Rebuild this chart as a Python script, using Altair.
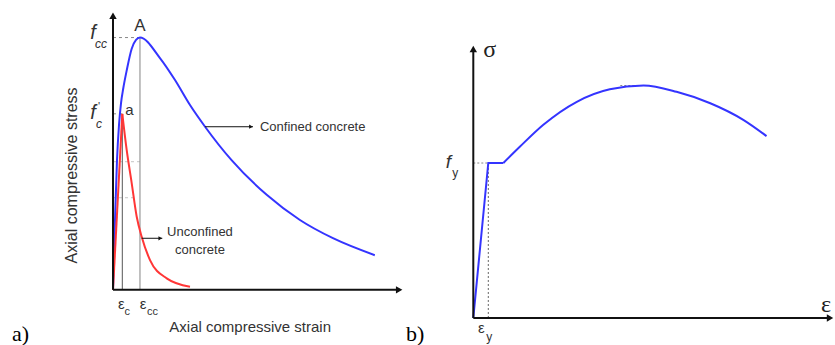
import altair as alt
import pandas as pd

# ---------------- (a) concrete: strain in per mille, stress in MPa ----------------
eps_c, eps_cc = 2.0, 5.8          # strain at unconfined / confined peak
f_c, f_cc = 30.0, 43.0            # unconfined / confined strength
strain_axis_a, stress_axis_a = 62.4, 47.4   # length of the drawn axes

confined_strain = [0, 0.43, 0.86, 1.29, 1.72, 2.22, 2.95, 4.02, 4.95, 5.8, 10.1, 13.3,
                   16.56, 19.8, 25.5, 33.05, 40.2, 47.3, 56.3]
confined_stress = [0, 11.9, 22.1, 28.1, 31.8, 34.4, 37.4, 41.1, 42.6, 43.0, 39.5, 35.8,
                   31.5, 27.8, 22.1, 16.2, 11.9, 8.8, 5.9]

unconfined_rise_strain = [0, 2.0]
unconfined_rise_stress = [0, 30.0]
unconfined_fall_strain = [2.0, 2.95, 4.02, 5.09, 6.17, 7.96, 11.55, 16.56]
unconfined_fall_stress = [30.0, 23.8, 18.2, 12.5, 9.05, 5.08, 1.96, 0.53]

# faint construction lines on the left of the peaks
aux_levels = [21.84, 15.7]
aux_ends = [6.0, 4.3]

# ---------------- (b) steel: strain in per mille, stress in MPa ----------------
eps_y, eps_sh = 2.0, 4.0
f_y, f_u, eps_u = 420.0, 630.0, 22.7
strain_axis_b, stress_axis_b = 48.1, 740.0

steel_elastic_strain = [0, eps_y, eps_sh]
steel_elastic_stress = [0, f_y, f_y]
steel_hardening_strain = [4.0, 6.2, 9.3, 13.8, 18.2, 22.7, 27.1, 31.6, 36.0, 39.1]
steel_hardening_stress = [420, 464, 523, 586, 620, 630, 613, 582, 537, 493]

BLUE = "#3434ff"
RED = "#ff3636"
INK = "#111111"
TXT = "#333333"
SANS = "Liberation Sans"
SERIF = "Liberation Serif"

xa = alt.Scale(domain=[-24.3, 70.32], nice=False, zero=False)
ya = alt.Scale(domain=[-9.4, 49.4], nice=False, zero=False)
xb = alt.Scale(domain=[-4.44, 48.23], nice=False, zero=False)
yb = alt.Scale(domain=[-73.2, 861.8], nice=False, zero=False)


def enc(xs, ys, x2=False, y2=False):
    e = dict(x=alt.X("x:Q", scale=xs, axis=None), y=alt.Y("y:Q", scale=ys, axis=None))
    if x2:
        e["x2"] = alt.X2("x2:Q")
    if y2:
        e["y2"] = alt.Y2("y2:Q")
    return e


def curve(xs, ys, sx, sy, color, interp):
    df = pd.DataFrame({"x": sx, "y": sy})
    return alt.Chart(df).mark_line(color=color, strokeWidth=2, interpolate=interp).encode(**enc(xs, ys))


def rule(xs, ys, x, x2, y, y2, **style):
    df = pd.DataFrame({"x": [x], "x2": [x2], "y": [y], "y2": [y2]})
    return alt.Chart(df).mark_rule(**style).encode(**enc(xs, ys, x2=True, y2=True))


def head(xs, ys, x, y, shape, size, **off):
    df = pd.DataFrame({"x": [x], "y": [y]})
    return alt.Chart(df).mark_point(shape=shape, size=size, filled=True, color=INK,
                                    opacity=1, strokeWidth=0, **off).encode(**enc(xs, ys))


def label(xs, ys, text, x, y, size, font=SANS, color=TXT, **style):
    df = pd.DataFrame({"x": [x], "y": [y], "t": [text]})
    return alt.Chart(df).mark_text(fontSize=size, font=font, color=color, **style).encode(
        text="t:N", **enc(xs, ys))


# ---------------- panel (a) ----------------
A = [
    # peak guides
    rule(xa, ya, 0, eps_cc, f_cc, f_cc, color="#888", strokeDash=[3, 3], strokeWidth=1),
    rule(xa, ya, 0, eps_c, f_c, f_c, color="#888", strokeDash=[3, 3], strokeWidth=1),
    rule(xa, ya, 0, aux_ends[0], aux_levels[0], aux_levels[0], color="#c4c4c4", strokeDash=[3, 3], strokeWidth=1),
    rule(xa, ya, 0, aux_ends[1], aux_levels[1], aux_levels[1], color="#c4c4c4", strokeDash=[3, 3], strokeWidth=1),
    rule(xa, ya, eps_c, eps_c, 0, f_c, color="#555", strokeWidth=1),
    rule(xa, ya, eps_cc, eps_cc, 0, f_cc, color="#999", strokeWidth=1.2),
    # stress-strain curves
    curve(xa, ya, confined_strain, confined_stress, BLUE, "monotone"),
    curve(xa, ya, unconfined_rise_strain, unconfined_rise_stress, RED, "linear"),
    curve(xa, ya, unconfined_fall_strain, unconfined_fall_stress, RED, "monotone"),
    # axes
    rule(xa, ya, 0, 0, 0, stress_axis_a - 1.0, color=INK, strokeWidth=2),
    rule(xa, ya, 0, strain_axis_a - 1.5, 0, 0, color=INK, strokeWidth=2),
    head(xa, ya, 0, stress_axis_a, "triangle-up", 55, yOffset=4),
    head(xa, ya, strain_axis_a, 0, "triangle-right", 55, xOffset=-4),
    # leader arrows
    rule(xa, ya, 19.8, 30.1, 27.8, 27.8, color=INK, strokeWidth=1),
    head(xa, ya, 30.1, 27.8, "triangle-right", 18, xOffset=-2),
    label(xa, ya, "Confined concrete", 31.6, 27.8, 13, align="left", baseline="middle"),
    rule(xa, ya, 6.17, 10.6, 8.79, 8.79, color=INK, strokeWidth=1),
    head(xa, ya, 10.6, 8.79, "triangle-right", 18, xOffset=-2),
    label(xa, ya, "Unconfined\nconcrete", 18.7, 9.9, 13, align="center", baseline="middle",
          lineBreak="\n", lineHeight=18),
    # point labels
    label(xa, ya, "A", eps_cc, f_cc, 17, align="center", baseline="middle", dy=-12),
    label(xa, ya, "a", eps_c, f_c, 15, align="center", baseline="middle", dx=7, dy=-4),
    label(xa, ya, "f", 0, f_cc, 20, fontStyle="italic", align="center", baseline="alphabetic", dx=-20, dy=1),
    label(xa, ya, "cc", 0, f_cc, 12, fontStyle="italic", align="left", baseline="middle", dx=-18, dy=6),
    label(xa, ya, "f", 0, f_c, 20, fontStyle="italic", align="center", baseline="alphabetic", dx=-20, dy=5),
    label(xa, ya, "'", 0, f_c, 11, align="center", baseline="middle", dx=-14, dy=-7),
    label(xa, ya, "c", 0, f_c, 12, fontStyle="italic", align="center", baseline="middle", dx=-14, dy=10),
    label(xa, ya, "\u03b5", eps_c, 0, 15, align="center", baseline="middle", dx=-1, dy=14),
    label(xa, ya, "c", eps_c, 0, 11, align="center", baseline="middle", dx=5, dy=22),
    label(xa, ya, "\u03b5", eps_cc, 0, 15, align="center", baseline="middle", dx=3, dy=14),
    label(xa, ya, "cc", eps_cc, 0, 11, align="left", baseline="middle", dx=7, dy=22),
    # titles
    label(xa, ya, "Axial compressive stress", -8.8, 19.5, 16, angle=270, align="center", baseline="middle"),
    label(xa, ya, "Axial compressive strain", 29.5, -6.33, 15, align="center", baseline="middle"),
    label(xa, ya, "a)", -21.7, -7.5, 22, font=SERIF, color="#000", align="left", baseline="middle"),
    label(xa, ya, "b)", 63.0, -7.5, 22, font=SERIF, color="#000", align="left", baseline="middle"),
]

panel_a = alt.layer(*A).properties(width=440, height=345)

# ---------------- panel (b) ----------------
B = [
    rule(xb, yb, 0, eps_y, f_y, f_y, color="#888", strokeDash=[2, 2], strokeWidth=1),
    rule(xb, yb, eps_y, eps_y, 0, f_y, color="#666", strokeDash=[2, 2], strokeWidth=1),
    rule(xb, yb, eps_u - 3.1, eps_u + 0.9, f_u, f_u, color="#888", strokeDash=[2, 2], strokeWidth=1),
    curve(xb, yb, steel_elastic_strain, steel_elastic_stress, BLUE, "linear"),
    curve(xb, yb, steel_hardening_strain, steel_hardening_stress, BLUE, "monotone"),
    rule(xb, yb, 0, 0, 0, stress_axis_b - 15, color=INK, strokeWidth=2),
    rule(xb, yb, 0, strain_axis_b - 0.8, 0, 0, color=INK, strokeWidth=2),
    head(xb, yb, 0, stress_axis_b, "triangle-up", 55, yOffset=4),
    head(xb, yb, strain_axis_b, 0, "triangle-right", 55, xOffset=-4),
    label(xb, yb, "\u03c3", 0, stress_axis_b, 24, font=SERIF, color="#222", align="left", baseline="middle", dx=10, dy=5),
    label(xb, yb, "\u03b5", strain_axis_b, 0, 24, font=SERIF, color="#222", align="center", baseline="middle", dx=-8, dy=-13),
    label(xb, yb, "f", 0, f_y, 19, fontStyle="italic", align="center", baseline="alphabetic", dx=-25, dy=5),
    label(xb, yb, "y", 0, f_y, 12, align="center", baseline="middle", dx=-18, dy=10),
    label(xb, yb, "\u03b5", eps_y, 0, 15, align="center", baseline="middle", dx=-7, dy=10),
    label(xb, yb, "y", eps_y, 0, 12, align="center", baseline="middle", dx=1, dy=19),
]

panel_b = alt.layer(*B).properties(width=395, height=345)

chart = (
    alt.hconcat(panel_a, panel_b, spacing=0)
    .properties(padding=0, background="white")
    .configure_view(stroke=None)
)

chart.save("out.html", embed_options={"renderer": "svg", "actions": False})
